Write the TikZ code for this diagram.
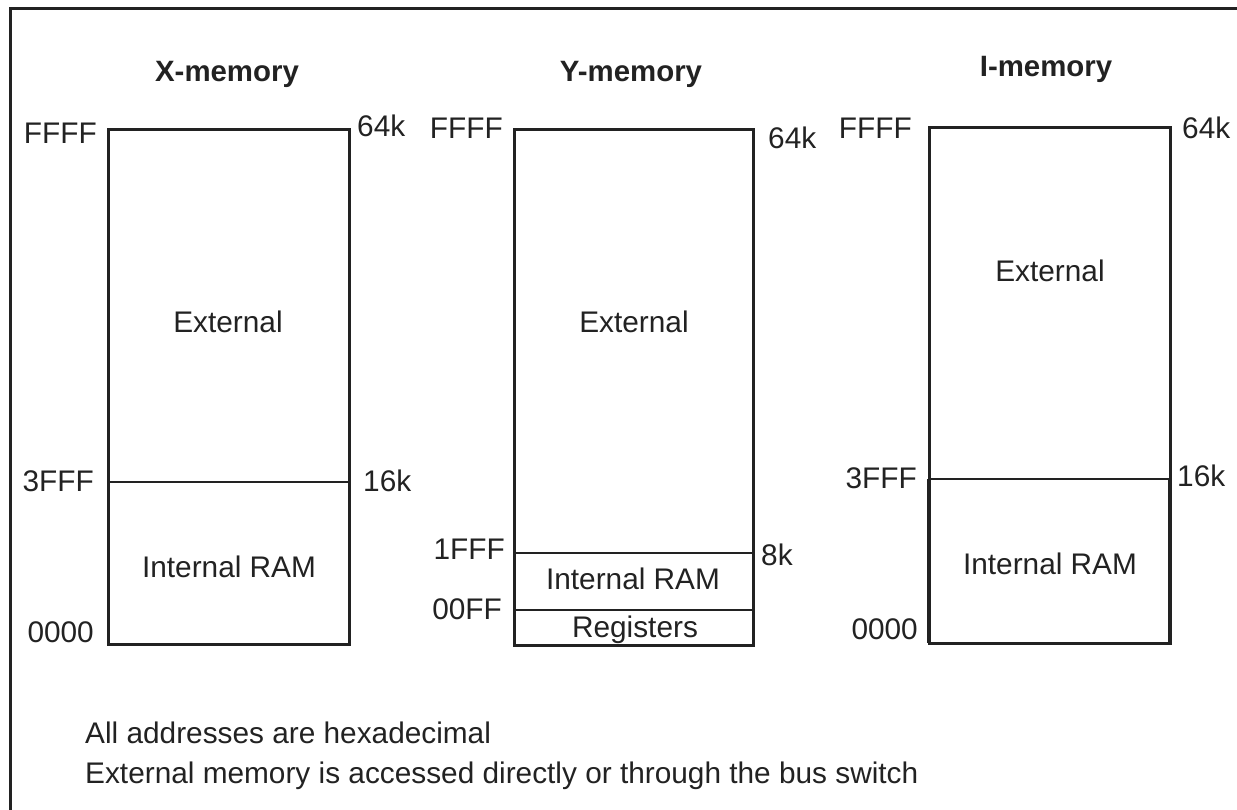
\documentclass[tikz,border=0pt]{standalone}
\usepackage{fontspec}
\setmainfont{Liberation Sans}
\definecolor{ink}{HTML}{222222}
\begin{document}
\begin{tikzpicture}[x=1pt,y=-1pt,
  lbl/.style={inner sep=0pt, text=ink, font=\fontsize{29.8}{36}\selectfont},
  ttl/.style={inner sep=0pt, text=ink, font=\fontsize{29.4}{36}\selectfont\bfseries},
  mbox/.style={draw=ink, line width=3pt},
  divl/.style={draw=ink, line width=2.7pt},
  thick side/.style={draw=ink, line width=4.4pt},
  frame/.style={draw=ink, line width=3pt}]
\useasboundingbox (0,0) rectangle (1237,810);
% frame
\draw[frame] (10,810) -- (10,9) -- (1237,9);

% ---------- X-memory ----------
\draw[mbox] (108,130) rectangle (349,644);
\draw[divl] (108,482) -- (349,482);
\node[ttl, anchor=base] (xt) at (227,82) {X-memory};
\node[lbl, anchor=base east] (xffff) at (97,144) {FFFF};
\node[lbl, anchor=base west] (x64k) at (357,137) {64k};
\node[lbl, anchor=base] (xext) at (228,333) {External};
\node[lbl, anchor=base east] (x3fff) at (94,491) {3FFF};
\node[lbl, anchor=base west] (x16k) at (363,491) {16k};
\node[lbl, anchor=base] (xram) at (229,577) {Internal RAM};
\node[lbl, anchor=base east] (x0000) at (94,642) {0000};

% ---------- Y-memory ----------
\draw[mbox] (514,130) rectangle (753,645);
\draw[divl] (514,553) -- (753,553);
\draw[divl] (514,610) -- (753,610);
\node[ttl, anchor=base] (yt) at (631,82) {Y-memory};
\node[lbl, anchor=base east] (yffff) at (503,139) {FFFF};
\node[lbl, anchor=base west] (y64k) at (768,149) {64k};
\node[lbl, anchor=base] (yext) at (634,333) {External};
\node[lbl, anchor=base east] (y1fff) at (505,559) {1FFF};
\node[lbl, anchor=base west] (y8k) at (761,565) {8k};
\node[lbl, anchor=base] (yram) at (633,589) {Internal RAM};
\node[lbl, anchor=base east] (y00ff) at (502,619) {00FF};
\node[lbl, anchor=base] (yreg) at (635,637) {Registers};

% ---------- I-memory ----------
\draw[mbox] (929,128) rectangle (1170,643);
\draw[divl] (929,479) -- (1170,479);
\draw[thick side] (929,479) -- (929,643);
\draw[thick side] (1170,479) -- (1170,643);
\node[ttl, anchor=base] (it) at (1046,77) {I-memory};
\node[lbl, anchor=base east] (iffff) at (912,139) {FFFF};
\node[lbl, anchor=base west] (i64k) at (1182,139) {64k};
\node[lbl, anchor=base] (iext) at (1050,282) {External};
\node[lbl, anchor=base east] (i3fff) at (917,488) {3FFF};
\node[lbl, anchor=base west] (i16k) at (1177,486) {16k};
\node[lbl, anchor=base] (iram) at (1050,574) {Internal RAM};
\node[lbl, anchor=base east] (i0000) at (918,639) {0000};

% ---------- notes ----------
\node[lbl, anchor=base west] (note1) at (85,743) {All addresses are hexadecimal};
\node[lbl, anchor=base west] (note2) at (85,783) {External memory is accessed directly or through the bus switch};
\end{tikzpicture}
\end{document}
